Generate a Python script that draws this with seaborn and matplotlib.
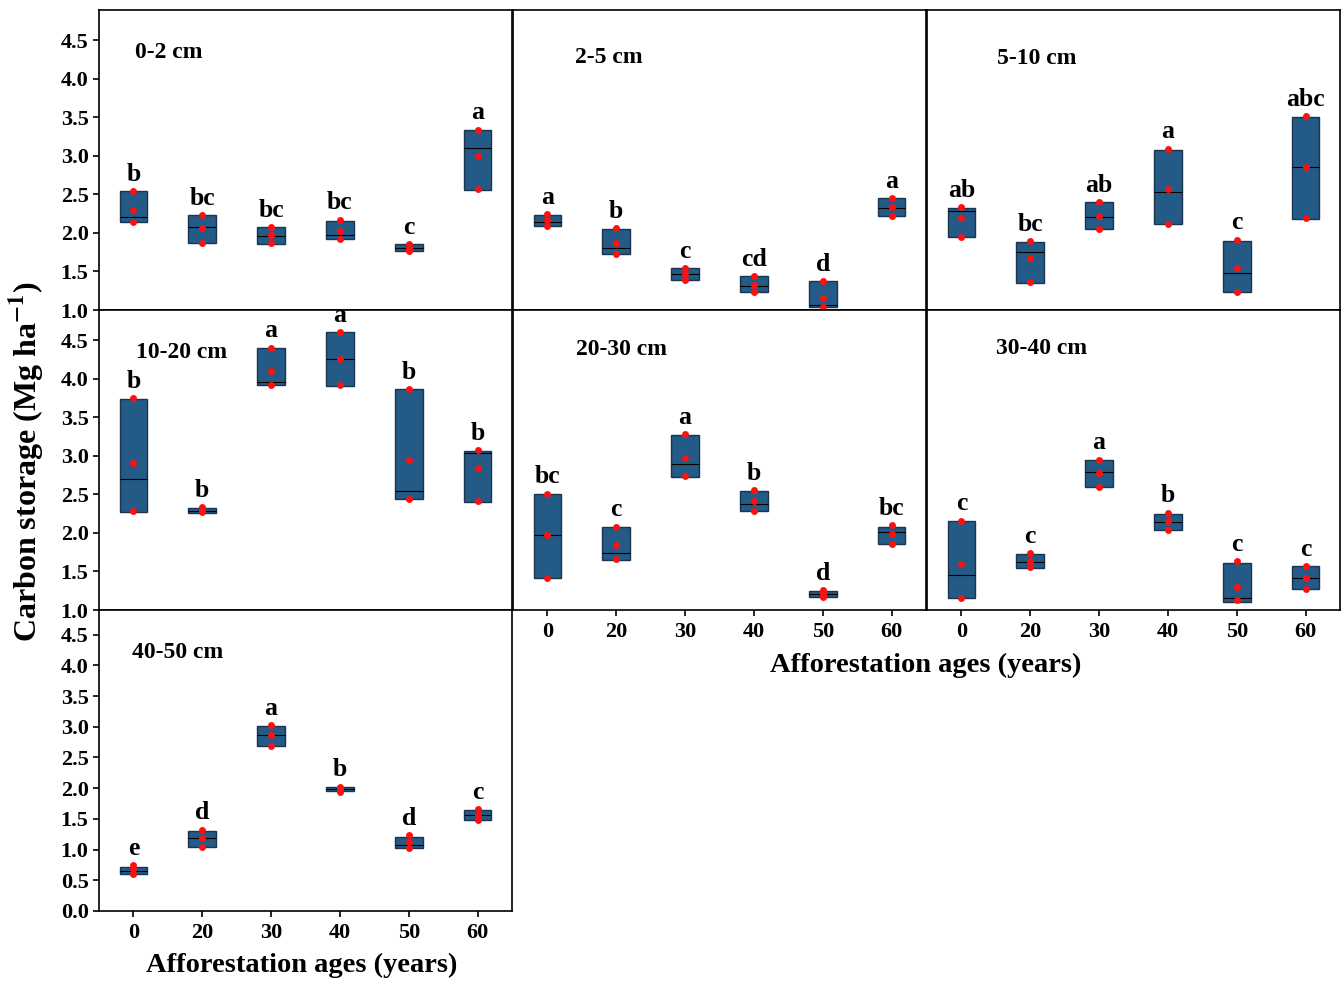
import numpy as np
import pandas as pd
import matplotlib
matplotlib.use("Agg")
import matplotlib.pyplot as plt
import seaborn as sns

ages = ["0", "20", "30", "40", "50", "60"]
depths = ["0-2 cm", "2-5 cm", "5-10 cm", "10-20 cm", "20-30 cm", "30-40 cm", "40-50 cm"]

# box: (low, median, high) per afforestation age
box_0_2 = [(2.14, 2.20, 2.54), (1.87, 2.08, 2.23), (1.86, 1.96, 2.07), (1.92, 1.97, 2.16), (1.76, 1.81, 1.85), (2.56, 3.10, 3.33)]
pts_0_2 = [(2.54, 2.30, 2.14), (2.23, 2.06, 1.87), (2.07, 1.97, 1.87), (2.17, 2.02, 1.92), (1.85, 1.80, 1.76), (3.34, 3.00, 2.57)]
let_0_2 = ["b", "bc", "bc", "bc", "c", "a"]

box_2_5 = [(2.09, 2.14, 2.23), (1.72, 1.81, 2.05), (1.39, 1.47, 1.54), (1.23, 1.31, 1.44), (1.04, 1.06, 1.37), (2.22, 2.32, 2.45)]
pts_2_5 = [(2.24, 2.17, 2.09), (2.06, 1.87, 1.73), (1.54, 1.47, 1.39), (1.44, 1.33, 1.23), (1.37, 1.16, 1.04), (2.45, 2.33, 2.22)]
let_2_5 = ["a", "b", "c", "cd", "d", "a"]

box_5_10 = [(1.95, 2.28, 2.32), (1.35, 1.75, 1.88), (2.05, 2.21, 2.40), (2.11, 2.53, 3.07), (1.23, 1.48, 1.90), (2.18, 2.85, 3.50)]
pts_5_10 = [(2.33, 2.19, 1.95), (1.89, 1.67, 1.36), (2.40, 2.22, 2.05), (3.09, 2.57, 2.11), (1.91, 1.54, 1.23), (3.51, 2.85, 2.19)]
let_5_10 = ["ab", "bc", "ab", "a", "c", "abc"]

box_10_20 = [(2.27, 2.70, 3.74), (2.26, 2.29, 2.32), (3.92, 3.95, 4.40), (3.91, 4.26, 4.60), (2.44, 2.54, 3.86), (2.40, 3.03, 3.06)]
pts_10_20 = [(3.75, 2.91, 2.28), (2.33, 2.30, 2.27), (4.40, 4.10, 3.92), (4.60, 4.26, 3.92), (3.86, 2.94, 2.44), (3.07, 2.84, 2.41)]
let_10_20 = ["b", "b", "a", "a", "b", "b"]

box_20_30 = [(1.41, 1.97, 2.50), (1.65, 1.74, 2.08), (2.73, 2.89, 3.27), (2.28, 2.38, 2.54), (1.17, 1.21, 1.25), (1.86, 2.01, 2.08)]
pts_20_30 = [(2.51, 1.97, 1.42), (2.08, 1.84, 1.66), (3.28, 2.97, 2.74), (2.55, 2.41, 2.29), (1.26, 1.22, 1.17), (2.10, 1.98, 1.86)]
let_20_30 = ["bc", "c", "a", "b", "d", "bc"]

box_30_40 = [(1.16, 1.45, 2.15), (1.55, 1.62, 1.73), (2.59, 2.79, 2.94), (2.04, 2.14, 2.25), (1.11, 1.16, 1.61), (1.27, 1.42, 1.57)]
pts_30_40 = [(2.16, 1.59, 1.16), (1.74, 1.64, 1.56), (2.95, 2.78, 2.60), (2.26, 2.15, 2.04), (1.63, 1.30, 1.13), (1.57, 1.42, 1.27)]
let_30_40 = ["c", "c", "a", "b", "c", "c"]

box_40_50 = [(0.61, 0.65, 0.72), (1.05, 1.19, 1.31), (2.69, 2.86, 3.01), (1.95, 1.98, 2.02), (1.03, 1.08, 1.21), (1.48, 1.56, 1.65)]
pts_40_50 = [(0.75, 0.68, 0.61), (1.32, 1.19, 1.05), (3.02, 2.86, 2.69), (2.02, 1.98, 1.94), (1.23, 1.13, 1.03), (1.66, 1.57, 1.48)]
let_40_50 = ["e", "d", "a", "b", "d", "c"]

boxes = [box_0_2, box_2_5, box_5_10, box_10_20, box_20_30, box_30_40, box_40_50]
points = [pts_0_2, pts_2_5, pts_5_10, pts_10_20, pts_20_30, pts_30_40, pts_40_50]
letters = [let_0_2, let_2_5, let_5_10, let_10_20, let_20_30, let_30_40, let_40_50]

yticks_upper = [1.0, 1.5, 2.0, 2.5, 3.0, 3.5, 4.0, 4.5]
yticks_lower = [0.0, 0.5, 1.0, 1.5, 2.0, 2.5, 3.0, 3.5, 4.0, 4.5]

# long table of replicate points
rows = []
for d, pts in zip(depths, points):
    for a, trio in zip(ages, pts):
        for v in trio:
            rows.append({"depth": d, "age": a, "value": v})
df = pd.DataFrame(rows)

sns.set_theme(style="ticks")
plt.rcParams["font.family"] = ["Liberation Serif", "DejaVu Serif"]
plt.rcParams["font.weight"] = "bold"
plt.rcParams["mathtext.fontset"] = "stix"
for key in ["text.color", "axes.labelcolor", "xtick.color", "ytick.color",
            "xtick.labelcolor", "ytick.labelcolor", "axes.edgecolor"]:
    plt.rcParams[key] = "black"

W, H = 1342, 982
fig = plt.figure(figsize=(W / 100, H / 100), dpi=100)

col_left = [99, 513, 927]
col_w = 413
row_top = [10, 310, 610]
row_h = [300, 300, 301]

# (col, row) for each depth
grid = [(0, 0), (1, 0), (2, 0), (0, 1), (1, 1), (2, 1), (0, 2)]
label_pos = [(0.087, 0.857), (0.150, 0.843), (0.170, 0.837), (0.090, 0.860),
             (0.152, 0.867), (0.167, 0.873), (0.080, 0.860)]
xtick_panels = {4, 5, 6}

box_color = "#245A86"
edge_color = "#1B3550"

for k, d in enumerate(depths):
    c, r = grid[k]
    rect = [col_left[c] / W, 1 - (row_top[r] + row_h[r]) / H, col_w / W, row_h[r] / H]
    ax = fig.add_axes(rect)
    bx = np.array(boxes[k])
    pos = np.arange(len(ages))
    ax.bar(pos, bx[:, 2] - bx[:, 0], bottom=bx[:, 0], width=0.4,
           color=box_color, edgecolor=edge_color, linewidth=1.0, zorder=2)
    ax.hlines(bx[:, 1], pos - 0.2, pos + 0.2, color="black", linewidth=0.8, zorder=3)
    sub = df[df["depth"] == d]
    sns.stripplot(data=sub, x="age", y="value", order=ages, jitter=False,
                  color="#FF1010", size=5.0, linewidth=0, ax=ax, zorder=4)
    tops = np.maximum(bx[:, 2], np.array(points[k]).max(axis=1))
    for i, lt in enumerate(letters[k]):
        ax.annotate(lt, (i, tops[i]), xytext=(0, 7.5), textcoords="offset points",
                    ha="center", va="baseline", fontsize=18.5, fontweight="bold",
                    color="black")
    ax.text(label_pos[k][0], label_pos[k][1], d, transform=ax.transAxes,
            ha="left", va="center", fontsize=17, fontweight="bold", color="black")
    ax.set_xlim(-0.5, 5.5)
    if r < 2:
        ax.set_ylim(1.0, 4.89)
        ax.set_yticks(yticks_upper)
    else:
        ax.set_ylim(0.0, 4.9)
        ax.set_yticks(yticks_lower)
    ax.set_xlabel("")
    ax.set_ylabel("")
    for s in ax.spines.values():
        s.set_visible(True)
        s.set_linewidth(1.2)
        s.set_color("black")
    if c == 0:
        ax.set_yticklabels([f"{t:.1f}" for t in ax.get_yticks()], fontsize=16, fontweight="bold")
        ax.tick_params(axis="y", direction="out", length=4.5, width=1.2, pad=3,
                       colors="black")
    else:
        ax.tick_params(axis="y", left=False, labelleft=False)
    if k in xtick_panels:
        ax.set_xticks(pos)
        ax.set_xticklabels(ages, fontsize=16, fontweight="bold")
        ax.tick_params(axis="x", direction="out", length=4.5, width=1.2, pad=4,
                       colors="black")
    else:
        ax.tick_params(axis="x", bottom=False, labelbottom=False)

fig.text(27 / W, 1 - 462 / H, r"Carbon storage (Mg ha$^{\mathbf{-1}}$)", rotation=90,
         ha="center", va="center", fontsize=23, fontweight="bold", color="black")
fig.text(926 / W, 1 - 665 / H, "Afforestation ages (years)", ha="center", va="center",
         fontsize=20.5, fontweight="bold", color="black")
fig.text(302 / W, 1 - 965 / H, "Afforestation ages (years)", ha="center", va="center",
         fontsize=20.5, fontweight="bold", color="black")

fig.savefig("out.png", dpi=100, facecolor="white")
